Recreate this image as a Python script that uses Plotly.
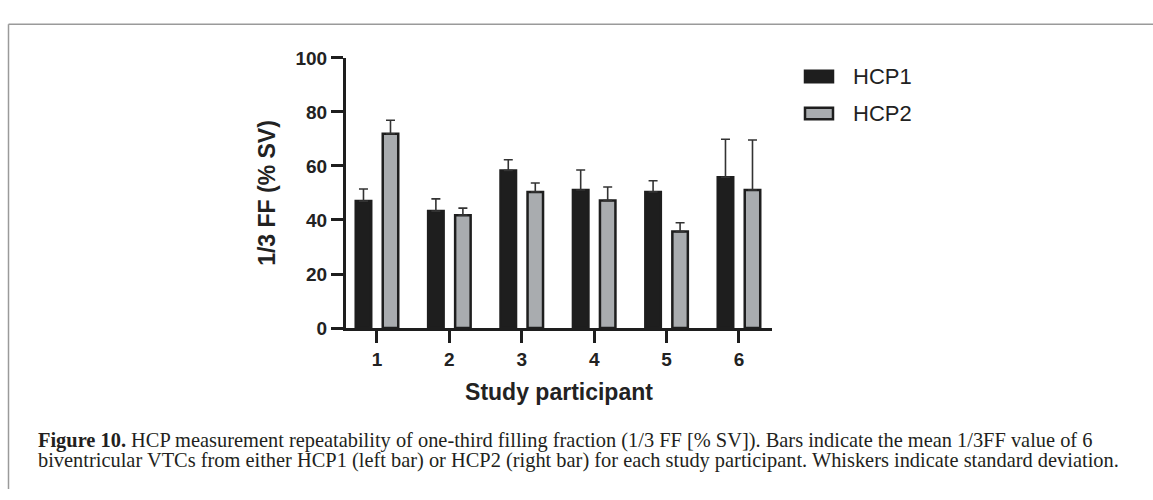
import plotly.graph_objects as go

# ---- data ----
participants = [1, 2, 3, 4, 5, 6]
series_names = ["HCP1", "HCP2"]
hcp1_mean = [47.0, 43.3, 58.3, 51.1, 50.4, 55.8]
hcp1_sd = [4.5, 4.5, 4.0, 7.4, 4.1, 14.1]
hcp2_mean = [71.9, 41.8, 50.4, 47.2, 35.7, 51.1]
hcp2_sd = [5.0, 2.6, 3.3, 5.0, 3.3, 18.5]
y_ticks = [0, 20, 40, 60, 80, 100]

caption_line1 = ("<b>Figure 10.</b> HCP measurement repeatability of one-third filling fraction "
                 "(1/3 FF [% SV]). Bars indicate the mean 1/3FF value of 6")
caption_line2 = ("biventricular VTCs from either HCP1 (left bar) or HCP2 (right bar) for each "
                 "study participant. Whiskers indicate standard deviation.")

W, H = 1153, 500
DARK = "#1e1e1e"
GREY = "#a9acaf"
SANS = "Liberation Sans, Arial, sans-serif"
SERIF = "Liberation Serif, Times New Roman, serif"

def px(xp):
    return xp / W

def py(yp):
    return 1 - yp / H

fig = go.Figure()
fig.add_trace(go.Bar(
    x=participants, y=hcp1_mean, name=series_names[0],
    marker=dict(color=DARK, line=dict(color=DARK, width=2.5)),
    error_y=dict(type="data", symmetric=False, array=hcp1_sd,
                 arrayminus=[0] * len(hcp1_sd), color="#333333", thickness=1.6, width=4.5),
    showlegend=False,
))
fig.add_trace(go.Bar(
    x=participants, y=hcp2_mean, name=series_names[1],
    marker=dict(color=GREY, line=dict(color=DARK, width=2.5)),
    error_y=dict(type="data", symmetric=False, array=hcp2_sd,
                 arrayminus=[0] * len(hcp2_sd), color="#333333", thickness=1.6, width=4.5),
    showlegend=False,
))

x0, x1 = 346, 772
y_top, y_bot = 50, 332

fig.update_layout(
    width=W, height=H,
    margin=dict(l=0, r=0, t=0, b=0),
    paper_bgcolor="white", plot_bgcolor="white",
    barmode="group", bargap=0.254, bargroupgap=0.426,
    xaxis=dict(
        domain=[px(x0), px(x1)], range=[0.572, 6.456],
        tickmode="array", tickvals=participants,
        ticktext=[f"<b>{p}</b>" for p in participants],
        ticks="outside", ticklen=12, tickwidth=2.5, tickcolor=DARK,
        showline=True, linewidth=3, linecolor=DARK, showgrid=False, zeroline=False,
        tickfont=dict(family=SANS, size=19, color="#222222"),
        title=dict(text="<b>Study participant</b>", standoff=16,
                   font=dict(family=SANS, size=23, color="#222222")),
    ),
    yaxis=dict(
        domain=[py(y_bot), py(y_top)], range=[0, 100],
        tickmode="array", tickvals=y_ticks, ticktext=[f"<b>{t}</b>" for t in y_ticks],
        ticks="outside", ticklen=12, tickwidth=2.5, tickcolor=DARK,
        showline=True, linewidth=3, linecolor=DARK, showgrid=False, zeroline=False,
        tickfont=dict(family=SANS, size=19, color="#222222"),
        title=dict(text="<b>1/3 FF (% SV)</b>", standoff=14,
                   font=dict(family=SANS, size=23, color="#222222")),
    ),
)

# figure frame (top and left edges)
fig.add_shape(type="line", xref="paper", yref="paper",
              x0=px(8.5), y0=py(15), x1=1.0, y1=py(15),
              line=dict(color="#9a9a9a", width=1.5))
fig.add_shape(type="line", xref="paper", yref="paper",
              x0=px(8.5), y0=py(15), x1=px(8.5), y1=0.0,
              line=dict(color="#9a9a9a", width=1.5))

# legend
legend_rows = [(69.5, DARK), (108, GREY)]
for name, (cy, fill) in zip(series_names, legend_rows):
    fig.add_shape(type="rect", xref="paper", yref="paper",
                  x0=px(805), x1=px(833), y0=py(cy - 6), y1=py(cy + 6),
                  fillcolor=fill, line=dict(color=DARK, width=2.5))
    fig.add_annotation(xref="paper", yref="paper", x=px(851), y=py(cy),
                       xanchor="left", yanchor="middle", showarrow=False,
                       text=name, font=dict(family=SANS, size=22, color="#222222"))

# caption
for txt, cy in [(caption_line1, 449), (caption_line2, 470)]:
    fig.add_annotation(xref="paper", yref="paper", x=px(36), y=py(cy),
                       xanchor="left", yanchor="middle", showarrow=False,
                       text=txt, font=dict(family=SERIF, size=20.4, color="#231f20"))

fig.write_html("out.html")
